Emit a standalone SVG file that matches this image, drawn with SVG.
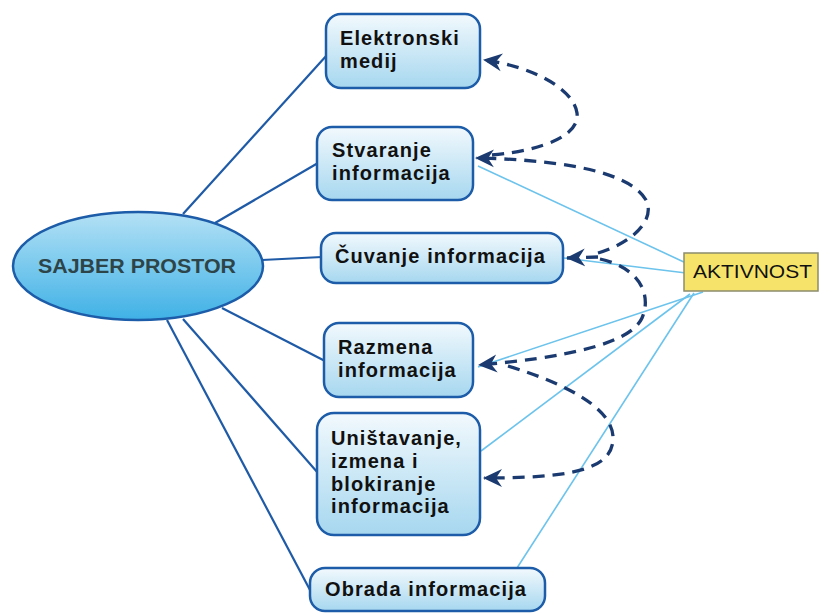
<svg xmlns="http://www.w3.org/2000/svg" width="820" height="614" viewBox="0 0 820 614">
<defs>
  <linearGradient id="gEll" x1="0" y1="0" x2="0" y2="1">
    <stop offset="0" stop-color="#b4e1f5"/>
    <stop offset="1" stop-color="#3fb1e6"/>
  </linearGradient>
  <linearGradient id="gBox" x1="0" y1="0" x2="0" y2="1">
    <stop offset="0" stop-color="#f2f9fd"/>
    <stop offset="1" stop-color="#a6d7ef"/>
  </linearGradient>
  <marker id="arr" markerUnits="userSpaceOnUse" markerWidth="20" markerHeight="20" viewBox="0 0 20 20" refX="18" refY="10" orient="auto">
    <path d="M0,1 L19,10 L0,19 L6,10 Z" fill="#1a3a70"/>
  </marker>
  <style>
    .box { fill: url(#gBox); stroke: #1c5ca8; stroke-width: 2.5; }
    .lbl { font-family: "Liberation Sans", Arial, sans-serif; font-weight: bold; font-size: 20px; fill: #111; letter-spacing: 1.1px; }
    .dk { stroke: #1e5aa6; stroke-width: 2.2; fill: none; }
    .lt { stroke: #6cc3ec; stroke-width: 1.6; fill: none; }
    .ds { stroke: #1a3a70; stroke-width: 3.3; fill: none; stroke-dasharray: 12 8; }
  </style>
</defs>
<rect width="820" height="614" fill="#ffffff"/>

<g id="connectors">
  <line class="dk" x1="183" y1="214" x2="327" y2="55"/>
  <line class="dk" x1="215" y1="223" x2="318" y2="163"/>
  <line class="dk" x1="262" y1="260" x2="322" y2="257"/>
  <line class="dk" x1="222" y1="308" x2="325" y2="361"/>
  <line class="dk" x1="183" y1="319" x2="318" y2="473"/>
  <line class="dk" x1="167" y1="320" x2="310" y2="590"/>

  <line class="lt" x1="686" y1="263" x2="478" y2="166"/>
  <line class="lt" x1="686" y1="273" x2="564" y2="258"/>
  <line class="lt" x1="703" y1="292" x2="478" y2="367"/>
  <line class="lt" x1="690" y1="294" x2="481" y2="451"/>
  <line class="lt" x1="694" y1="293" x2="517" y2="568"/>

  <path class="ds" d="M 492 155 C 545 150, 580 135, 577 113 C 574 90, 535 67, 484 60" marker-end="url(#arr)"/>
  <path class="ds" d="M 598 253 C 632 243, 656 220, 646 200 C 632 175, 575 160, 476 158" marker-end="url(#arr)"/>
  <path class="ds" d="M 598 257 L 567 258" marker-end="url(#arr)"/>
  <path class="ds" d="M 600 259 C 640 268, 652 295, 642 318 C 630 345, 560 358, 479 365" marker-end="url(#arr)"/>
  <path class="ds" d="M 508 366 C 570 385, 615 410, 613 440 C 611 470, 570 478, 484 478" marker-end="url(#arr)"/>
</g>

<g id="sajber-prostor">
  <ellipse cx="138" cy="266" rx="125" ry="54" fill="url(#gEll)" stroke="#1c5ca8" stroke-width="2.5"/>
  <text x="137" y="273" text-anchor="middle" textLength="198" lengthAdjust="spacingAndGlyphs" font-family="Liberation Sans, Arial, sans-serif" font-weight="bold" font-size="20" fill="#2d4448">SAJBER PROSTOR</text>
</g>

<g id="elektronski-medij">
  <rect class="box" x="326" y="14" width="154" height="74" rx="15"/>
  <text class="lbl" x="340" y="45">Elektronski</text>
  <text class="lbl" x="340" y="68">medij</text>
</g>

<g id="stvaranje">
  <rect class="box" x="317" y="127" width="156" height="73" rx="15"/>
  <text class="lbl" x="332" y="157">Stvaranje</text>
  <text class="lbl" x="332" y="180">informacija</text>
</g>

<g id="cuvanje">
  <rect class="box" x="321" y="233" width="242" height="50" rx="15"/>
  <text class="lbl" x="335" y="263">Čuvanje informacija</text>
</g>

<g id="razmena">
  <rect class="box" x="324" y="323" width="149" height="74" rx="15"/>
  <text class="lbl" x="338" y="354">Razmena</text>
  <text class="lbl" x="338" y="377">informacija</text>
</g>

<g id="unistavanje">
  <rect class="box" x="317" y="413" width="163" height="122" rx="17"/>
  <text class="lbl" x="331" y="445">Uništavanje,</text>
  <text class="lbl" x="331" y="468">izmena i</text>
  <text class="lbl" x="331" y="491">blokiranje</text>
  <text class="lbl" x="331" y="513">informacija</text>
</g>

<g id="obrada">
  <rect class="box" x="310" y="568" width="235" height="43" rx="15"/>
  <text class="lbl" x="325" y="596">Obrada informacija</text>
</g>

<g id="aktivnost">
  <rect x="684" y="253" width="134" height="38" fill="#f6e46a" stroke="#8c8c6e" stroke-width="1.5"/>
  <text x="693" y="278" textLength="119" lengthAdjust="spacingAndGlyphs" font-family="Liberation Sans, Arial, sans-serif" font-size="18" fill="#111">AKTIVNOST</text>
</g>
</svg>
